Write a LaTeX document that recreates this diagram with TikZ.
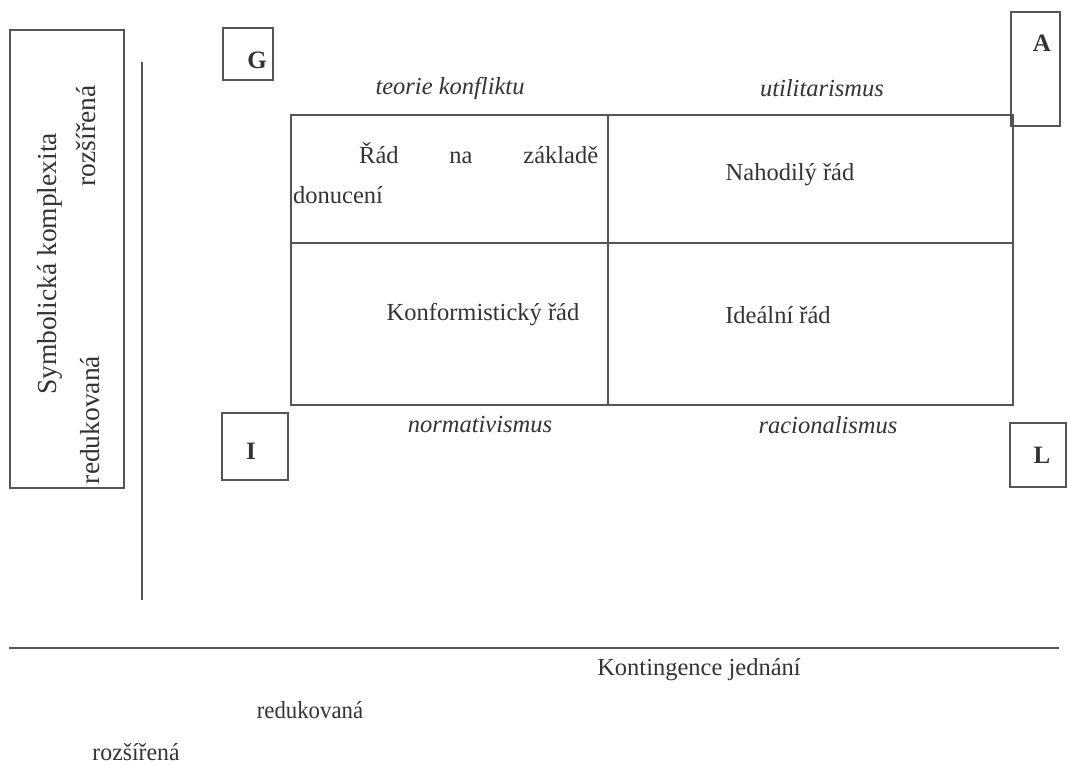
\documentclass[tikz,border=0pt]{standalone}
\usepackage{fontspec}
\setmainfont{Liberation Serif}
\definecolor{ink}{HTML}{333333}
\definecolor{rule}{HTML}{555555}
\begin{document}
\begin{tikzpicture}[x=1pt,y=-1pt,
  every node/.style={text=ink},
  frame/.style={draw=rule,line width=1.2pt,inner sep=0pt},
  txt/.style={font=\fontsize{24.5}{28}\selectfont,inner sep=0pt},
  ital/.style={font=\fontsize{24.5}{28}\selectfont\itshape,inner sep=0pt},
  letter/.style={font=\fontsize{25}{28}\selectfont\bfseries,inner sep=0pt},
  side/.style={font=\fontsize{27.5}{30}\selectfont,inner sep=0pt,rotate=90},
  axis/.style={draw=rule,line width=1.2pt}]
\useasboundingbox (0,0) rectangle (1069,764);

% vertical axis: symbolic complexity
\node[frame,minimum width=114pt,minimum height=458pt] (sbox) at (67,259) {};
\node[side] (symb) at (50,264) {Symbolická komplexita};
\node[side] (vup) at (86,136) {rozšířená};
\node[side] (vdown) at (90,420) {redukovaná};
\coordinate (vtop) at (142,62);
\coordinate (vbot) at (142,600);
\draw[axis] (vtop) -- (vbot);

% AGIL corner boxes
\node[frame,minimum width=50pt,minimum height=52pt] (gbox) at (248,54) {};
\node[letter] (gl) at (257,60) {G};
\node[frame,minimum width=49pt,minimum height=114pt] (abox) at (1035.5,69) {};
\node[letter] (al) at (1042,43) {A};
\node[frame,minimum width=66pt,minimum height=67pt] (ibox) at (255,446.5) {};
\node[letter] (il) at (251,451) {I};
\node[frame,minimum width=56pt,minimum height=64pt] (lbox) at (1038,455) {};
\node[letter] (ll) at (1042,455) {L};

% four-field table
\node[frame,minimum width=317pt,minimum height=128pt] (c11) at (449.5,179) {};
\node[frame,minimum width=405pt,minimum height=128pt] (c12) at (810.5,179) {};
\node[frame,minimum width=317pt,minimum height=162pt] (c21) at (449.5,324) {};
\node[frame,minimum width=405pt,minimum height=162pt] (c22) at (810.5,324) {};

\node[txt,anchor=north west,align=left,font=\fontsize{24.5}{40}\selectfont] (t11) at (293,142)
  {\makebox[305pt][l]{\hspace*{66pt}Řád\hfill na\hfill základě}\\donucení};
\node[txt] (t12) at (790,175) {Nahodilý řád};
\node[txt] (t21) at (483,315) {Konformistický řád};
\node[txt] (t22) at (778,315) {Ideální řád};

\node[ital] (tk) at (450,88) {teorie konfliktu};
\node[ital] (ut) at (822,88) {utilitarismus};
\node[ital] (nm) at (480,425) {normativismus};
\node[ital] (rc) at (828,425) {racionalismus};

% horizontal axis: contingency of action
\coordinate (hleft) at (9,648);
\coordinate (hright) at (1059,648);
\draw[axis] (hleft) -- (hright);
\node[txt] (kont) at (699,670) {Kontingence jednání};
\node[txt,xscale=0.93] (hred) at (310,710) {redukovaná};
\node[txt,xscale=0.97] (hroz) at (136,752) {rozšířená};
\end{tikzpicture}
\end{document}
